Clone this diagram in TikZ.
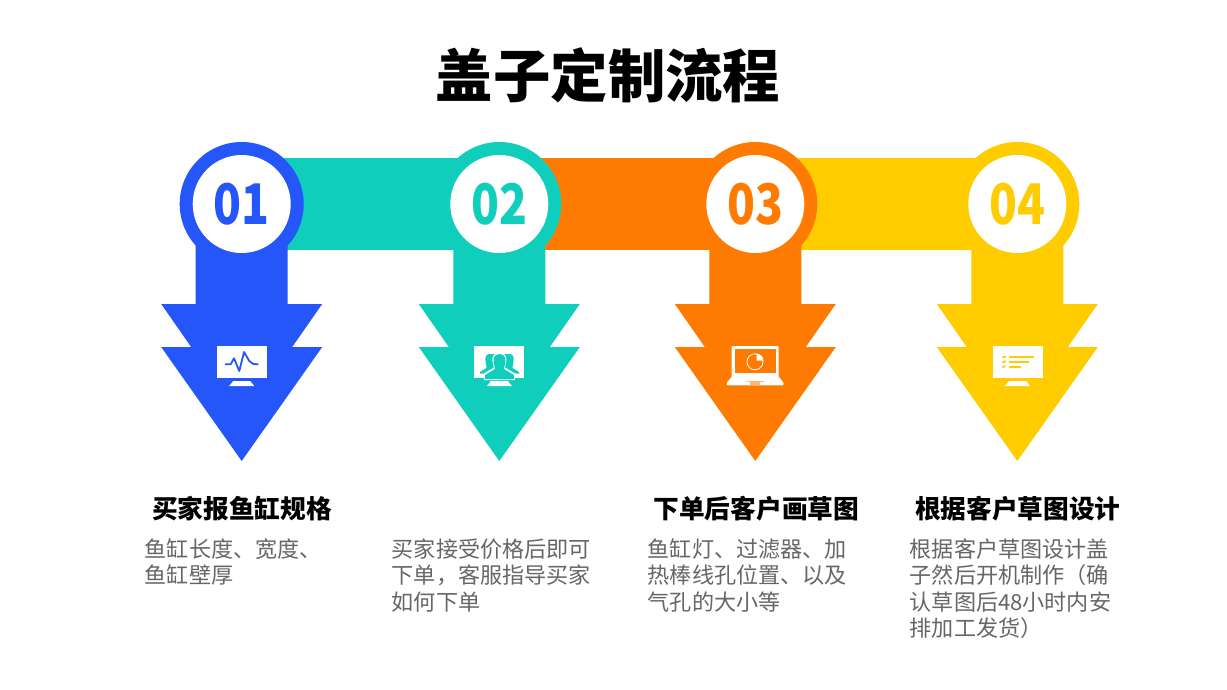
\documentclass[tikz,border=0pt]{standalone}
\usepackage{fontspec}
\setmainfont{Noto Sans CJK SC}
\newfontfamily\numfont[FakeStretch=0.82]{Noto Sans CJK SC}
\definecolor{cblue}{HTML}{2456FA}
\definecolor{cteal}{HTML}{0FCEBC}
\definecolor{corange}{HTML}{FF7A00}
\definecolor{cyellow}{HTML}{FFCC00}
\definecolor{cgrey}{HTML}{666666}
\tikzset{
  every node/.style={inner sep=0pt,outer sep=0pt},
  titletext/.style={font=\fontsize{57.4}{60}\selectfont\bfseries},
  headtext/.style={anchor=base west,font=\fontsize{25.7}{28}\selectfont\bfseries,text=black},
  bodytext/.style={anchor=north west,align=left,font=\fontsize{22.1}{26.5}\selectfont,text=cgrey},
  numtext/.style={font=\fontsize{56}{60}\numfont\bfseries},
  band/.style={fill=#1,draw=none},
  screen/.style={fill=white,draw=none},
}
\newcommand{\stepshape}[2]{%
  \fill[#2] (#1,204) circle[radius=62];
  \fill[#2] (#1-46,204) -- (#1-46,304) -- (#1-80.5,304) -- (#1-50.5,347) -- (#1-80.5,347)
     -- (#1,461) -- (#1+80.5,347) -- (#1+50.5,347) -- (#1+80.5,304) -- (#1+46,304) -- (#1+46,204) -- cycle;
  \fill[white] (#1,204) circle[radius=49];
}
\newcommand{\monitor}[1]{%
  \fill[screen] (#1-25,346) rectangle (#1+25,378);
  \fill[screen] (#1-8.5,381) -- (#1+8.5,381) -- (#1+12.5,386) -- (#1-12.5,386) -- cycle;
}
\begin{document}
\begin{tikzpicture}[x=1pt,y=-1pt]
\useasboundingbox (0,0) rectangle (1227,689);
\fill[white] (0,0) rectangle (1227,689);

\node[titletext] (title) at (608,75) {盖子定制流程};

% bands
\fill[band=cteal] (241.7,158.3) rectangle (499.3,250);
\stepshape{241.7}{cblue}
\fill[band=corange] (499.3,158.3) rectangle (755.3,250);
\stepshape{499.3}{cteal}
\fill[band=cyellow] (755.3,158.3) rectangle (1017.3,250);
\stepshape{755.3}{corange}
\stepshape{1017.3}{cyellow}

% numbers
\node[numtext,text=cblue] (n1) at (241.7,204) {01};
\node[numtext,text=cteal] (n2) at (499.9,204) {02};
\node[numtext,text=corange] (n3) at (755.3,204) {03};
\node[numtext,text=cyellow] (n4) at (1017.6,204) {04};

% icon 1
\monitor{241.7}
\draw[cblue,line width=1.8pt,line join=round] (225,364.3) -- (230.7,364.3) -- (234,358.3) -- (239.3,371) -- (244,352) -- (249.3,361) -- (253.3,364) -- (258.3,364.3);

% icon 2
\monitor{499.4}
\fill[cteal] (489.5,354) .. controls (485.5,354) and (485,358) .. (485.5,361) .. controls (486,364) and (486.5,366) .. (486.5,368) -- (480,372) -- (480,373.5) -- (495,373.5) -- (495,354) -- cycle;
\fill[cteal] (509.5,354) .. controls (513.5,354) and (514,358) .. (513.5,361) .. controls (513,364) and (512.5,366) .. (512.5,368) -- (519,372) -- (519,373.5) -- (504,373.5) -- (504,354) -- cycle;
\fill[white] (499.4,352.8) .. controls (491.8,352.8) and (491.8,359) .. (492.8,363) .. controls (493.3,365) and (493.8,367) .. (493.8,367.5) -- (484,373.5) -- (484,380) -- (515,380) -- (515,373.5) -- (505,367.5) .. controls (505,367) and (505.5,365) .. (506,363) .. controls (507,359) and (507,352.8) .. (499.4,352.8) -- cycle;
\fill[cteal] (499.4,354) .. controls (493,354) and (493,360) .. (494,364) .. controls (494.5,366) and (495,368) .. (495,369) -- (485,375) -- (485,379) -- (514,379) -- (514,375) -- (504,369) .. controls (504,368) and (504.5,366) .. (505,364) .. controls (506,360) and (506,354) .. (499.4,354) -- cycle;

% icon 3
\fill[screen,rounded corners=1pt] (731.7,346) rectangle (778.6,378);
\fill[corange] (735,348.8) rectangle (775.6,373.4);
\fill[screen,rounded corners=1pt] (731.7,376.5) -- (778.6,376.5) -- (783.6,383) -- (783.6,385.3) -- (726.7,385.3) -- (726.7,383) -- cycle;
\fill[corange!55!white] (746.5,381) rectangle (764,382);
\fill[corange!55!white] (750,382) rectangle (760,385);
\draw[white,line width=0.8pt] (755,361.8) circle[radius=8];
\fill[white] (756.6,353.6) -- (756.6,360.6) -- (763.4,360.6) .. controls (763.4,357) and (760.5,353.6) .. (756.6,353.6) -- cycle;

% icon 4
\monitor{1017.5}
\fill[cyellow] (1009.3,356) rectangle (1034,358);
\fill[cyellow] (1009.3,360.7) rectangle (1029.3,362.7);
\fill[cyellow] (1009.3,365.5) rectangle (1021,367.5);
\foreach \yy in {356,360.7,365.5}{
  \fill[cyellow] (1003.5,\yy) -- (1006.5,\yy) -- (1004.5,\yy+2.2) -- (1001.5,\yy+2.2) -- cycle;
}

% headings
\node[headtext] (h1) at (152,518) {买家报鱼缸规格};
\node[headtext] (h3) at (653.5,518) {下单后客户画草图};
\node[headtext] (h4) at (915,518) {根据客户草图设计};

% bodies
\node[bodytext] (b1) at (144.8,538.5) {鱼缸长度、宽度、\\鱼缸壁厚};
\node[bodytext] (b2) at (391.8,538.5) {买家接受价格后即可\\下单，客服指导买家\\如何下单};
\node[bodytext] (b3) at (647.8,538.5) {鱼缸灯、过滤器、加\\热棒线孔位置、以及\\气孔的大小等};
\node[bodytext] (b4) at (909.8,538.5) {根据客户草图设计盖\\子然后开机制作（确\\认草图后48小时内安\\排加工发货）};
\end{tikzpicture}
\end{document}
